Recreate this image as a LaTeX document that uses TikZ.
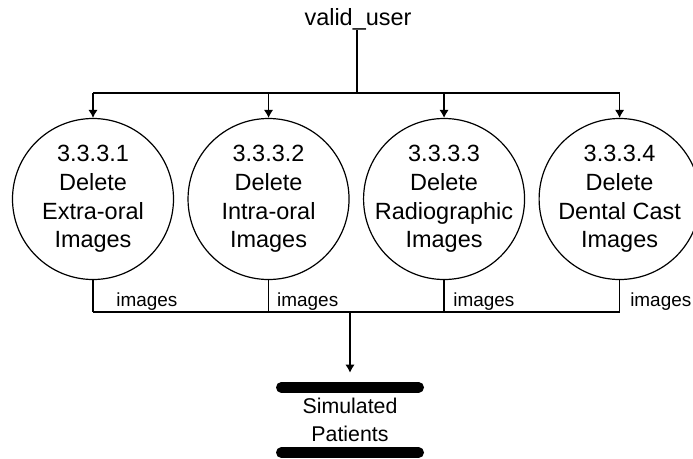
\documentclass[tikz,border=0pt]{standalone}
\usepackage{fontspec}
\setmainfont{Liberation Sans}
\usetikzlibrary{positioning,arrows.meta}

\tikzset{
    process/.style={draw, circle, line width=0.9pt, minimum size=120.75pt, inner sep=0pt,
        label={[align=center, font=\fontsize{17.6}{21.5}\selectfont]center:#1}},
    flow/.style={-{Latex[length=6pt,width=7pt]}},
    flowtext/.style={font=\fontsize{14.2}{16}\selectfont, anchor=south west, inner sep=1pt},
    storebar/.style={line width=8pt, line cap=round},
}

\begin{document}
\begin{tikzpicture}[x=0.75pt, y=-0.75pt, line width=1pt]
    \useasboundingbox (0,0) rectangle (693,458);

    \node [inner sep=0pt, anchor=base, font=\fontsize{17.6}{21}\selectfont] (user) at (358,25) {valid\_user};

    \node [process={3.3.3.1\\Delete\\Extra-oral\\Images}] (p1) at (93,199) {};
    \node [process={3.3.3.2\\Delete\\Intra-oral\\Images}, right=10pt of p1] (p2) {};
    \node [process={3.3.3.3\\Delete\\Radiographic\\Images}, right=10pt of p2] (p3) {};
    \node [process={3.3.3.4\\Delete\\Dental Cast\\Images}, right=10pt of p3] (p4) {};

    \node [minimum width=102pt, minimum height=48pt, inner sep=0pt, align=center,
        font=\fontsize{16}{20.5}\selectfont] (sim) at (350,420) {Simulated\\Patients};

    \coordinate (split) at (357,93);
    \coordinate (merge) at (350,312);

    % valid_user fans out to the four processes
    \draw (user.south -| split) -- (split);
    \draw (p1.north |- split) -- (p4.north |- split);
    \draw [flow] (p1.north |- split) -- (p1.north);
    \draw [flow] (p2.north |- split) -- (p2.north);
    \draw [flow] (p3.north |- split) -- (p3.north);
    \draw [flow] (p4.north |- split) -- (p4.north);

    % images flow into the store
    \draw (p1.south) -- (p1.south |- merge) node [flowtext, xshift=16pt] {images};
    \draw (p2.south) -- (p2.south |- merge) node [flowtext, xshift=5pt] {images};
    \draw (p3.south) -- (p3.south |- merge) node [flowtext, xshift=5.5pt] {images};
    \draw (p4.south) -- (p4.south |- merge) node [flowtext, xshift=6.5pt] {images};
    \draw (p1.south |- merge) -- (p4.south |- merge);
    \draw [flow, shorten >=11pt] (merge) -- (sim.north);

    % data store
    \draw [storebar] (sim.north west) -- (sim.north east);
    \draw [storebar] (sim.south west) -- (sim.south east);
\end{tikzpicture}
\end{document}
